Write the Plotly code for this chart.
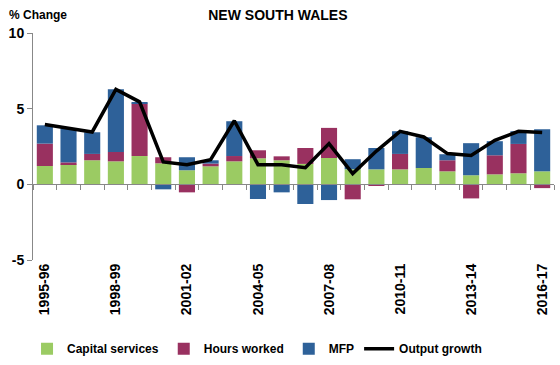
import plotly.graph_objects as go

years = ["1995-96", "1996-97", "1997-98", "1998-99", "1999-00", "2000-01", "2001-02",
         "2002-03", "2003-04", "2004-05", "2005-06", "2006-07", "2007-08", "2008-09",
         "2009-10", "2010-11", "2011-12", "2012-13", "2013-14", "2014-15", "2015-16", "2016-17"]
capital = [1.21, 1.32, 1.59, 1.52, 1.87, 1.39, 0.93, 1.19, 1.52, 1.72, 1.59, 1.35, 1.74, 1.00,
           0.99, 0.99, 1.08, 0.86, 0.60, 0.66, 0.73, 0.86]
hours = [1.48, 0.13, 0.42, 0.62, 3.47, 0.40, -0.53, 0.18, 0.35, 0.53, 0.26, 1.05, 1.99, -0.99,
         -0.11, 1.02, 0.00, 0.73, -0.93, 1.26, 1.94, -0.25]
mfp = [1.21, 2.24, 1.43, 4.15, 0.09, -0.33, 0.86, 0.22, 2.30, -0.97, -0.53, -1.30, -1.04, 0.66,
       1.41, 1.50, 2.03, 0.40, 2.12, 0.93, 0.84, 2.78]
output = [3.95, 3.69, 3.46, 6.27, 5.45, 1.48, 1.30, 1.63, 4.20, 1.30, 1.30, 1.10, 2.69, 0.71,
          2.20, 3.50, 3.13, 2.03, 1.90, 2.91, 3.50, 3.42]
label_years = ["1995-96", "1998-99", "2001-02", "2004-05", "2007-08", "2010-11", "2013-14", "2016-17"]

FONT = "Liberation Sans"
fig = go.Figure()
fig.add_trace(go.Bar(x=years, y=capital, name="<b>Capital services</b>", marker_color="#9BCB63",
                     marker_line_width=0))
fig.add_trace(go.Bar(x=years, y=hours, name="<b>Hours worked</b>", marker_color="#993160",
                     marker_line_width=0))
fig.add_trace(go.Bar(x=years, y=mfp, name="<b>MFP</b>", marker_color="#2E6199",
                     marker_line_width=0))
fig.add_trace(go.Scatter(x=years, y=output, name="<b>Output growth</b>", mode="lines",
                         line=dict(color="black", width=3.5)))
# invisible trace to carry the zero-line axis with category boundary ticks
fig.add_trace(go.Scatter(x=years, y=output, xaxis="x2", mode="lines", opacity=0,
                         showlegend=False, hoverinfo="skip"))

fig.update_layout(
    width=560, height=365,
    margin=dict(l=33, r=6, t=33, b=105, autoexpand=False),
    paper_bgcolor="white", plot_bgcolor="white",
    barmode="relative", bargap=0.32,
    font=dict(family=FONT, size=12, color="black"),
    title=dict(text="<b>NEW SOUTH WALES</b>", xref="paper", x=0.47, xanchor="center",
               yref="container", y=0.96, yanchor="middle",
               font=dict(size=14, family=FONT)),
    xaxis=dict(type="category", categoryorder="array", categoryarray=years,
               tickmode="array", tickvals=label_years, ticktext=["<b>%s</b>" % t for t in label_years],
               tickangle=-90, ticks="", showline=False, showgrid=False, zeroline=False,
               tickfont=dict(size=14, family=FONT), range=[-0.5, 21.5], automargin=False),
    xaxis2=dict(type="category", categoryorder="array", categoryarray=years, matches="x",
                overlaying="x", anchor="free", position=1/3, side="bottom",
                showticklabels=False, ticks="outside", tickson="boundaries", ticklen=5,
                tickcolor="#888888", showline=True, linecolor="#888888", linewidth=1,
                showgrid=False, zeroline=False),
    yaxis=dict(range=[-5, 10], tickvals=[-5, 0, 5, 10], ticktext=["<b>-5</b>", "<b>0</b>", "<b>5</b>", "<b>10</b>"],
               ticks="outside", ticklen=5, tickcolor="#888888", showline=True,
               linecolor="#888888", linewidth=1, showgrid=False, zeroline=False,
               tickfont=dict(size=14, family=FONT), automargin=False),
    legend=dict(orientation="h", x=0.43, xanchor="center", yref="container", y=0.005, yanchor="bottom",
                font=dict(size=12, family=FONT), traceorder="normal", itemwidth=30),
    annotations=[dict(text="<b>% Change</b>", xref="paper", yref="paper", x=-0.05, y=1.079,
                      xanchor="left", yanchor="middle", showarrow=False,
                      font=dict(size=12, family=FONT))],
)
fig.write_html("out.html", post_script="document.body.style.margin='0';",
               config={"displayModeBar": False})
